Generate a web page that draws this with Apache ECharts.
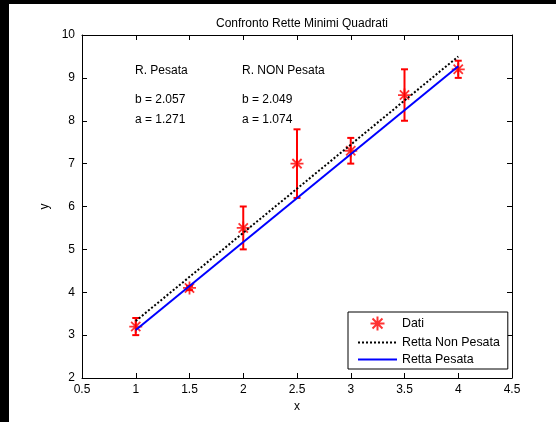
<!DOCTYPE html>
<html>
<head>
<meta charset="utf-8">
<script src="https://cdn.jsdelivr.net/npm/echarts@6/dist/echarts.min.js"></script>
<style>
html,body{margin:0;padding:0;background:#fff;}
#c{width:556px;height:422px;}
</style>
</head>
<body>
<div id="c"></div>
<script>
// ---- data ----
const dataX = [1, 1.5, 2, 2.5, 3, 3.5, 4];
const dataY = [3.2, 4.1, 5.5, 7.0, 7.3, 8.6, 9.2];
const dataErr = [0.2, 0.05, 0.5, 0.8, 0.3, 0.6, 0.2];
const fitX = [1, 4];
const nonPesataY = [3.33, 9.50];
const pesataY = [3.12, 9.27];
const titleText = 'Confronto Rette Minimi Quadrati';
const legendNames = ['Dati', 'Retta Non Pesata', 'Retta Pesata'];
const noteCol1 = ['R. Pesata', 'b = 2.057', 'a = 1.271'];
const noteCol2 = ['R. NON Pesata', 'b = 2.049', 'a = 1.074'];
const xMin = 0.5, xMax = 4.5, xStep = 0.5;
const yMin = 2, yMax = 10, yStep = 1;

const FONT = '"Liberation Sans", Arial, sans-serif';
const chart = echarts.init(document.getElementById('c'), null, {renderer: 'canvas'});

const star = 'path://M0,-10L0,10M-10,0L10,0M-7.1,-7.1L7.1,7.1M-7.1,7.1L7.1,-7.1';

function pairs(xs, ys) { return xs.map((x, i) => [x, ys[i]]); }

const axisCommon = {
  axisLine: {show: true, onZero: false, lineStyle: {color: '#000', width: 1}},
  axisTick: {show: true, inside: true, length: 5, lineStyle: {color: '#000'}},
  splitLine: {show: false}
};

const notes = [];
const rowsY = [72, 101, 121];
noteCol1.forEach((t, i) => notes.push({type: 'text', left: 135, top: rowsY[i] - 7,
  style: {text: t, font: '12px ' + FONT, fill: '#000'}}));
noteCol2.forEach((t, i) => notes.push({type: 'text', left: 242, top: rowsY[i] - 7,
  style: {text: t, font: '12px ' + FONT, fill: '#000'}}));

chart.setOption({
  animation: false,
  backgroundColor: '#fff',
  title: {
    text: titleText, left: 297, top: 13, textAlign: 'center',
    textStyle: {fontSize: 12, fontWeight: 'normal', color: '#000', fontFamily: FONT}
  },
  grid: {left: 82, right: 44, top: 35, bottom: 44, containLabel: false},
  xAxis: [
    Object.assign({}, axisCommon, {
      type: 'value', min: xMin, max: xMax, interval: xStep, position: 'bottom',
      name: 'x', nameLocation: 'middle', nameGap: 21,
      nameTextStyle: {fontSize: 12, color: '#000', fontFamily: FONT},
      axisLabel: {show: true, margin: 6, fontSize: 12, color: '#000', fontFamily: FONT}
    }),
    Object.assign({}, axisCommon, {
      type: 'value', min: xMin, max: xMax, interval: xStep, position: 'top',
      axisLabel: {show: false}
    })
  ],
  yAxis: [
    Object.assign({}, axisCommon, {
      type: 'value', min: yMin, max: yMax, interval: yStep, position: 'left',
      name: 'y', nameLocation: 'middle', nameGap: 30,
      nameTextStyle: {fontSize: 12, color: '#000', fontFamily: FONT},
      axisLabel: {show: true, margin: 7, fontSize: 12, color: '#000', fontFamily: FONT}
    }),
    Object.assign({}, axisCommon, {
      type: 'value', min: yMin, max: yMax, interval: yStep, position: 'right',
      axisLabel: {show: false}
    })
  ],
  legend: {
    left: 348, top: 312, orient: 'vertical',
    itemWidth: 39, itemHeight: 14, itemGap: 5,
    padding: [3.5, 8, 3.5, 9],
    borderColor: '#000', borderWidth: 1, backgroundColor: '#fff',
    textStyle: {fontSize: 12.4, color: '#000', fontFamily: FONT},
    data: [
      {name: legendNames[0]},
      {name: legendNames[1], itemStyle: {opacity: 0}},
      {name: legendNames[2], itemStyle: {opacity: 0}}
    ]
  },
  graphic: [
    {type: 'rect', left: 0, top: 0, shape: {width: 9, height: 422}, style: {fill: '#000'}, z: 100},
    {type: 'rect', left: 0, top: 0, shape: {width: 556, height: 4}, style: {fill: '#000'}, z: 100}
  ].concat(notes),
  series: [
    {
      name: 'errbars', type: 'custom', z: 2,
      data: dataX.map((x, i) => [x, dataY[i], dataErr[i]]),
      renderItem: function (params, api) {
        const x = api.value(0), y = api.value(1), e = api.value(2);
        const t = api.coord([x, y + e]), b = api.coord([x, y - e]);
        const w = 3.5;
        const st = {stroke: '#ff0000', lineWidth: 2, fill: 'none'};
        return {type: 'group', children: [
          {type: 'line', shape: {x1: t[0], y1: t[1], x2: b[0], y2: b[1]}, style: st},
          {type: 'line', shape: {x1: t[0] - w, y1: t[1], x2: t[0] + w, y2: t[1]}, style: st},
          {type: 'line', shape: {x1: b[0] - w, y1: b[1], x2: b[0] + w, y2: b[1]}, style: st}
        ]};
      },
      silent: true
    },
    {
      name: 'Dati', type: 'scatter', z: 3,
      data: pairs(dataX, dataY),
      symbol: star, symbolSize: 13,
      itemStyle: {color: '#ff0000', borderColor: '#ff0000', borderWidth: 1.8}
    },
    {
      name: 'Retta Non Pesata', type: 'line', z: 4,
      data: pairs(fitX, nonPesataY),
      symbol: 'none', showSymbol: false,
      itemStyle: {color: '#000'},
      lineStyle: {color: '#000', width: 2, type: [2, 2]}
    },
    {
      name: 'Retta Pesata', type: 'line', z: 5,
      data: pairs(fitX, pesataY),
      symbol: 'none', showSymbol: false,
      itemStyle: {color: '#0000ff'},
      lineStyle: {color: '#0000ff', width: 2}
    }
  ]
});
</script>
</body>
</html>
